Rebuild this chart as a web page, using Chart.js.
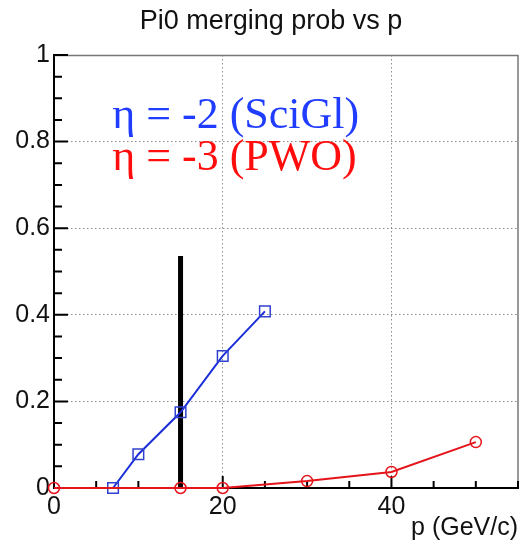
<!DOCTYPE html>
<html>
<head>
<meta charset="utf-8">
<script src="https://cdn.jsdelivr.net/npm/chart.js@4.4.1/dist/chart.umd.min.js"></script>
<style>
  body { margin: 0; background: #fff; }
  #wrap { width: 520px; height: 550px; }
</style>
</head>
<body>
<div id="wrap"><canvas id="cntPi0Merging" width="520" height="550"></canvas></div>
<script>
// momentum points (GeV/c) and merging probability per calorimeter
const sciglP = [7, 10, 15, 20, 25];
const sciglProb = [0, 0.078, 0.175, 0.305, 0.408];
const pwoP = [0, 15, 20, 30, 40, 50];
const pwoProb = [0, 0, 0, 0.016, 0.037, 0.106];
// vertical marker at 15 GeV/c
const cutP = [15, 15];
const cutProb = [0, 0.536];
// axis ticks
const xMajor = [0, 20, 40];
const yMajor = [0, 0.2, 0.4, 0.6, 0.8, 1];
const xMinorStep = 5;
const yMinorStep = 0.05;

function toPoints(xs, ys){
  return xs.map(function(v, i){ return {x: v, y: ys[i]}; });
}

const frameTicks = {
  id: 'frameTicks',
  beforeDatasetsDraw(chart){
    const ctx = chart.ctx;
    const a = chart.chartArea;
    const sx = chart.scales.x, sy = chart.scales.y;
    ctx.save();
    // top and right frame
    ctx.strokeStyle = '#777';
    ctx.lineWidth = 1.5;
    ctx.beginPath();
    ctx.moveTo(a.left, a.top + 0.5);
    ctx.lineTo(a.right, a.top + 0.5);
    ctx.lineTo(a.right, a.bottom);
    ctx.stroke();
    // inward tick marks
    ctx.strokeStyle = '#000';
    ctx.lineWidth = 2;
    ctx.beginPath();
    for (let v = 0; v <= sx.max + 1e-6; v += xMinorStep){
      const px = sx.getPixelForValue(v);
      const len = (v % 20 === 0) ? 12 : 7;
      ctx.moveTo(px, a.bottom);
      ctx.lineTo(px, a.bottom - len);
    }
    for (let i = 0; i * yMinorStep <= sy.max + 1e-6; i++){
      const py = sy.getPixelForValue(i * yMinorStep);
      const len = (i % 4 === 0) ? 14 : 8;
      ctx.moveTo(a.left, py);
      ctx.lineTo(a.left + len, py);
    }
    ctx.stroke();
    ctx.restore();
  }
};

// title and the two eta labels
const textLayer = {
  id: 'textLayer',
  afterDatasetsDraw(chart){
    const ctx = chart.ctx;
    const sx = chart.scales.x, sy = chart.scales.y;
    ctx.save();
    ctx.font = '27px "Liberation Sans"';
    ctx.fillStyle = '#111';
    ctx.textAlign = 'center';
    ctx.textBaseline = 'middle';
    ctx.fillText('Pi0 merging prob vs p', 271, 22);

    ctx.font = '44px "Liberation Serif"';
    ctx.textAlign = 'left';
    ctx.textBaseline = 'alphabetic';
    ctx.fillStyle = '#1f3cff';
    ctx.fillText('η = -2 (SciGl)', sx.getPixelForValue(6.9), sy.getPixelForValue(0.831));
    ctx.fillStyle = '#ff0d0d';
    ctx.fillText('η = -3 (PWO)', sx.getPixelForValue(6.9), sy.getPixelForValue(0.734));
    ctx.restore();
  }
};

function gridColor(ctx){
  const v = ctx.tick ? ctx.tick.value : null;
  if (v === null || v === 0 || v === 1) return 'transparent';
  return '#8a8a8a';
}

const ctx = document.getElementById('cntPi0Merging').getContext('2d');

window.cntPi0Merging_ = new Chart(ctx, {
  type: 'line',
  data: {
    datasets: [{
      label: 'PWO',
      data: toPoints(pwoP, pwoProb),
      borderColor: '#e5141a',
      borderWidth: 2,
      pointStyle: 'circle',
      pointRadius: 5.5,
      pointBorderWidth: 1.5,
      pointBorderColor: '#e5141a',
      pointBackgroundColor: 'transparent',
      clip: false
    }, {
      label: 'SciGl',
      data: toPoints(sciglP, sciglProb),
      borderColor: '#1a2fd8',
      borderWidth: 2,
      pointStyle: 'rect',
      pointRadius: 7.5,
      pointBorderWidth: 1.5,
      pointBorderColor: '#3040d0',
      pointBackgroundColor: 'transparent',
      clip: false
    }, {
      label: 'cut',
      data: toPoints(cutP, cutProb),
      borderColor: '#000',
      borderWidth: 5,
      pointRadius: 0,
      clip: false
    }]
  },
  options: {
    responsive: false,
    animation: false,
    layout: { autoPadding: false, padding: { left: 0, right: 2, top: 55, bottom: 0 } },
    plugins: {
      legend: { display: false },
      tooltip: { enabled: false },
      title: { display: false }
    },
    scales: {
      x: {
        type: 'linear',
        min: 0,
        max: 55,
        afterBuildTicks: function(scale){ scale.ticks = xMajor.map(function(v){ return {value: v}; }); },
        afterFit: function(scale){ scale.height = 62; },
        grid: {
          drawTicks: false,
          lineWidth: 1,
          color: gridColor
        },
        border: { display: true, color: '#000', width: 2, dash: [1.5, 2.5] },
        ticks: {
          padding: 4,
          color: '#111',
          font: { family: 'Liberation Sans', size: 25 },
          maxRotation: 0,
          callback: function(v){ return String(v); }
        },
        title: {
          display: true,
          text: 'p (GeV/c)',
          align: 'end',
          color: '#111',
          font: { family: 'Liberation Sans', size: 25 },
          padding: { top: 0, bottom: 7 }
        }
      },
      y: {
        type: 'linear',
        min: 0,
        max: 1,
        afterBuildTicks: function(scale){ scale.ticks = yMajor.map(function(v){ return {value: v}; }); },
        afterFit: function(scale){ scale.width = 54; },
        grid: {
          drawTicks: false,
          lineWidth: 1,
          color: gridColor
        },
        border: { display: true, color: '#000', width: 2, dash: [1.5, 2.5] },
        ticks: {
          padding: 4,
          color: '#111',
          font: { family: 'Liberation Sans', size: 25 },
          callback: function(v){ return String(Math.round(v * 10) / 10); }
        }
      }
    }
  },
  plugins: [frameTicks, textLayer]
});
</script>
</body>
</html>
